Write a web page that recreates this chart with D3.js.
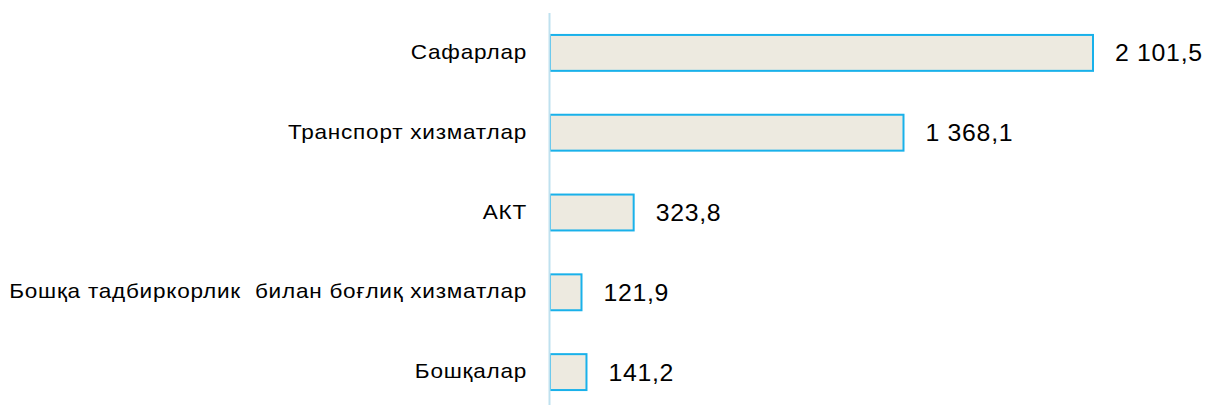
<!DOCTYPE html>
<html>
<head>
<meta charset="utf-8">
<script src="https://cdn.jsdelivr.net/npm/d3@7"></script>
<style>
  html, body { margin: 0; padding: 0; background: #ffffff; }
  svg { display: block; font-family: "Liberation Sans", Arial, sans-serif; }
</style>
</head>
<body>
<svg id="chart" width="1206" height="405"></svg>
<script>
const categories = ["Сафарлар", "Транспорт хизматлар", "АКТ", "Бошқа тадбиркорлик  билан боғлиқ хизматлар", "Бошқалар"];
const values = [2101.5, 1368.1, 323.8, 121.9, 141.2];
const valueLabels = ["2 101,5", "1 368,1", "323,8", "121,9", "141,2"];

const svg = d3.select("#chart");
const x0 = 550;
const x = d3.scaleLinear().domain([0, 2101.5]).range([x0, 1093]);
const y = d3.scaleBand().domain(categories).range([13, 412]).paddingInner(0.55).paddingOuter(0.275);

// bars
svg.append("g").selectAll("rect").data(values).join("rect")
  .attr("x", x(0))
  .attr("y", (d, i) => y(categories[i]))
  .attr("width", d => x(d) - x(0))
  .attr("height", y.bandwidth())
  .attr("fill", "#edeae0")
  .attr("stroke", "#19b1ea")
  .attr("stroke-width", 2);

// axis line
svg.append("line")
  .attr("x1", x0 - 0.5).attr("x2", x0 - 0.5)
  .attr("y1", 13).attr("y2", 405)
  .attr("stroke", "#bfe1ef").attr("stroke-width", 2);

// category labels
svg.append("g").selectAll("text").data(categories).join("text")
  .attr("transform", d => `translate(527,${y(d) + y.bandwidth() / 2 - 1}) scale(1.1,1)`)
  .attr("dy", "0.35em")
  .attr("text-anchor", "end")
  .attr("font-size", 20.5)
  .attr("letter-spacing", 0.7)
  .attr("fill", "#000")
  .style("white-space", "pre")
  .text(d => d);

// value labels
svg.append("g").selectAll("text").data(values).join("text")
  .attr("transform", (d, i) => `translate(${x(d) + 22},${y(categories[i]) + y.bandwidth() / 2 + 0.5}) scale(1.08,1)`)
  .attr("dy", "0.35em")
  .attr("font-size", 23)
  .attr("letter-spacing", 0.65)
  .attr("fill", "#000")
  .text((d, i) => valueLabels[i]);
</script>
</body>
</html>
